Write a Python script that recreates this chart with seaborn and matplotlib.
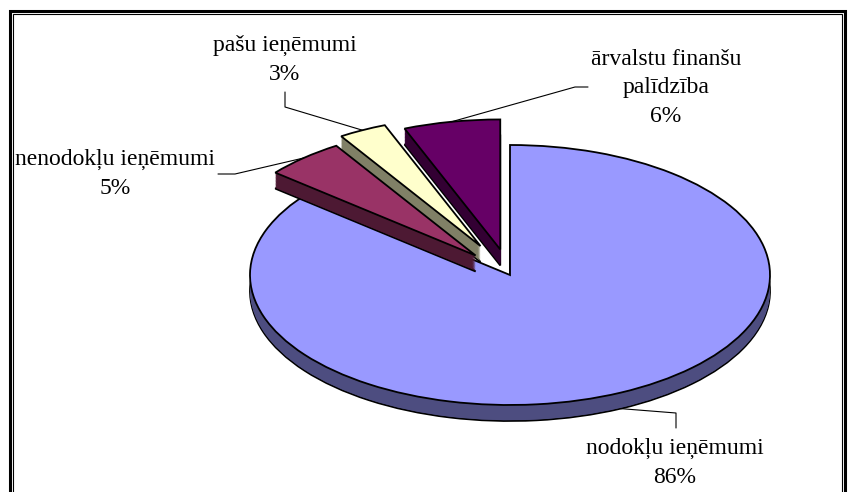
import numpy as np
import matplotlib.pyplot as plt
from matplotlib.patches import Rectangle
import seaborn as sns

# budžeta ieņēmumu struktūra
categories = ['nodokļu ieņēmumi', 'nenodokļu ieņēmumi', 'pašu ieņēmumi', 'ārvalstu finanšu\npalīdzība']
shares = [86, 5, 3, 6]
top_colors = ['#9999FF', '#993366', '#FFFFCC', '#660066']
side_colors = ['#4D4D80', '#4D1933', '#808066', '#330033']
explode = [0, 0.2, 0.25, 0.2]

sns.set_theme(style='white')
plt.rcParams['font.family'] = ['Liberation Serif', 'DejaVu Serif']

W, H = 853, 492
fig = plt.figure(figsize=(W / 100, H / 100), dpi=100)
ax = fig.add_axes([0, 0, 1, 1])

# pie centre and semi axes in pixels (3D look: squashed ellipse + thickness)
cx, cy, rx, ry = 510, 275, 260, 130
depth = 16 / ry
n_layers = 22

for i, off in enumerate(np.linspace(-depth, 0, n_layers)):
    is_top = i == n_layers - 1
    is_bottom = i == 0
    wedges, _ = ax.pie(shares, explode=explode, startangle=90, counterclock=False,
                       center=(0, off),
                       colors=top_colors if is_top else side_colors,
                       wedgeprops=dict(edgecolor='black',
                                       linewidth=1.3 if (is_top or is_bottom) else 0))
    for k, w in enumerate(wedges):
        w.set_zorder((1 if k == 0 else 2) + i * 0.01)

ax.set_aspect('auto')
ax.set_xlim(-cx / rx, (W - cx) / rx)
ax.set_ylim(-(H - cy) / ry, cy / ry)
ax.axis('off')


def px(x, y):
    return (x - cx) / rx, (cy - y) / ry


# label layout: text centre, elbow, end of leader (pixels)
label_pos = [(675, 463), (115, 174), (285, 60), (666, 88)]
elbows = [((676, 413), (676, 428)), ((235, 174), (218, 174)),
          ((285, 107), (285, 92)), ((575, 87), (588, 87))]

total = sum(shares)
start = 90.0
for k, (name, val) in enumerate(zip(categories, shares)):
    span = 360.0 * val / total
    theta = np.deg2rad(start - span / 2)
    start -= span
    ux, uy = np.cos(theta), np.sin(theta)
    ax0 = (1 + explode[k]) * ux
    ay0 = (1 + explode[k]) * uy
    if k == 0:
        ay0 -= depth
    (e1, e2) = elbows[k]
    p1, p2 = px(*e1), px(*e2)
    ax.plot([ax0, p1[0], p2[0]], [ay0, p1[1], p2[1]], color='black', lw=0.8, zorder=5)
    tx, ty = px(*label_pos[k])
    ax.text(tx, ty, f'{name}\n{val}%', ha='center', va='center', fontsize=17,
            color='black', linespacing=1.45, zorder=6)

# double frame around the chart
fig.patches.append(Rectangle((10.5 / W, -0.05), (845.5 - 10.5) / W, (H - 10.5) / H + 0.05,
                             transform=fig.transFigure, fill=False, edgecolor='black', lw=2.2))
fig.patches.append(Rectangle((13.5 / W, -0.05), (842.2 - 13.5) / W, (H - 13.5) / H + 0.05,
                             transform=fig.transFigure, fill=False, edgecolor='black', lw=0.8))

fig.savefig('out.png', dpi=100, facecolor='white')
